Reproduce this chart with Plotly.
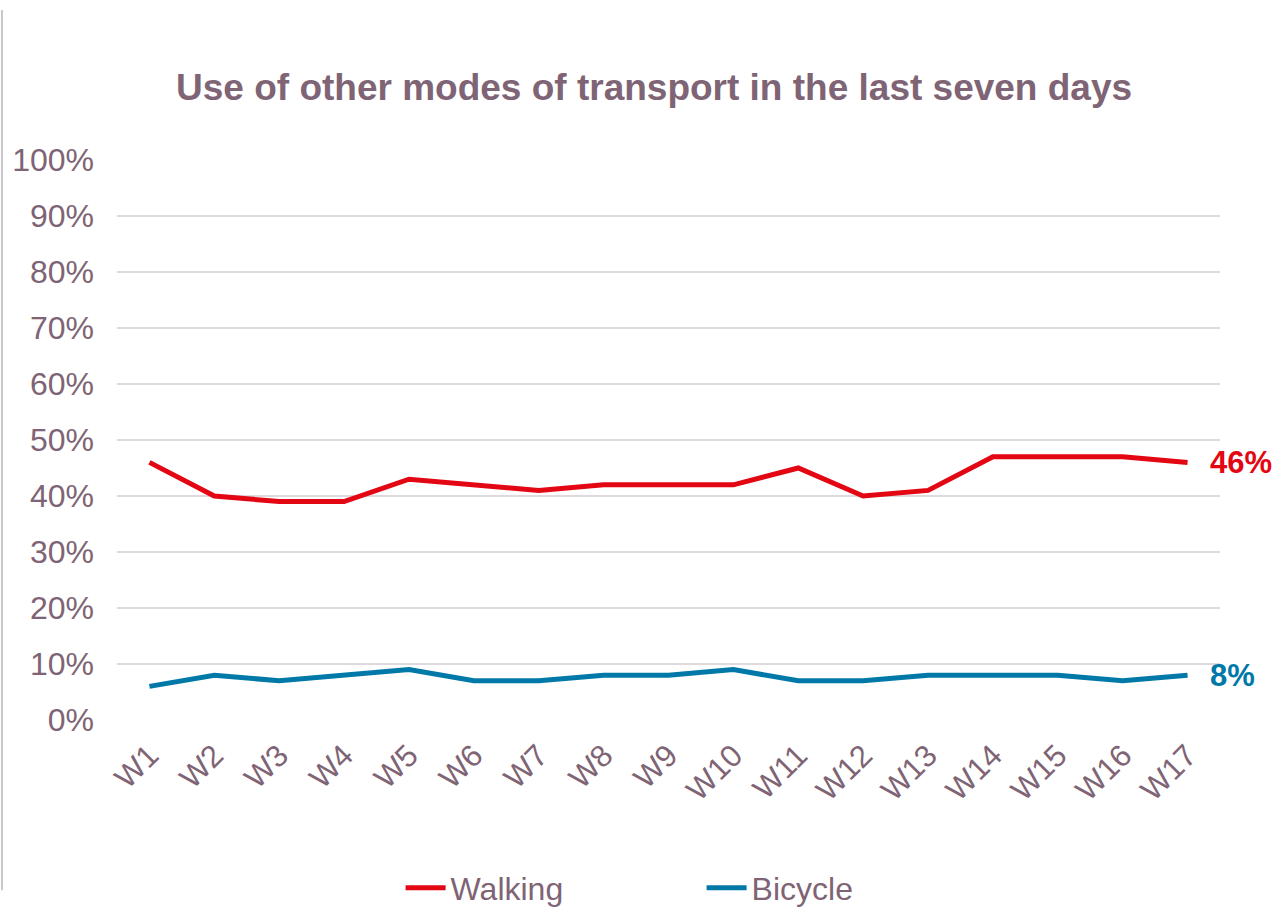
import plotly.graph_objects as go

# weekly share using each mode
weeks = ["W1", "W2", "W3", "W4", "W5", "W6", "W7", "W8", "W9", "W10",
         "W11", "W12", "W13", "W14", "W15", "W16", "W17"]
walking = [0.46, 0.40, 0.39, 0.39, 0.43, 0.42, 0.41, 0.42, 0.42, 0.42,
           0.45, 0.40, 0.41, 0.47, 0.47, 0.47, 0.46]
bicycle = [0.06, 0.08, 0.07, 0.08, 0.09, 0.07, 0.07, 0.08, 0.08, 0.09,
           0.07, 0.07, 0.08, 0.08, 0.08, 0.07, 0.08]
y_ticks = [0, 0.1, 0.2, 0.3, 0.4, 0.5, 0.6, 0.7, 0.8, 0.9, 1.0]

RED = "#E30613"
BLUE = "#0079A8"
TEXT = "#7E6474"
FONT = "Liberation Sans, Arial, sans-serif"

fig = go.Figure()
for name, vals, col in [("Walking", walking, RED), ("Bicycle", bicycle, BLUE)]:
    fig.add_trace(go.Scatter(
        x=weeks, y=vals, name=name, mode="lines",
        line=dict(color=col, width=5),
    ))
    # value label at the end of each line
    fig.add_annotation(
        x=weeks[-1], y=vals[-1], text=f"<b>{vals[-1]:.0%}</b>",
        showarrow=False, xanchor="left", xshift=20,
        font=dict(color=col, size=31, family=FONT),
    )

fig.update_layout(
    width=1275, height=911,
    paper_bgcolor="white", plot_bgcolor="white",
    font=dict(family=FONT, color=TEXT, size=32),
    title=dict(text="<b>Use of other modes of transport in the last seven days</b>",
               x=0.513, xanchor="center", y=0.904, yanchor="middle",
               font=dict(size=37, color=TEXT)),
    margin=dict(l=117, r=55, t=160, b=191, autoexpand=False),
    showlegend=True,
    legend=dict(orientation="h", x=0.53, xanchor="center", y=-0.3, yanchor="middle",
                font=dict(size=32, color=TEXT), entrywidth=246, itemwidth=40),
)
fig.update_xaxes(
    range=[-0.5, 16.5], tickangle=-45, showgrid=False, showline=False,
    ticks="", ticklabelstandoff=10, tickfont=dict(size=31, color=TEXT),
)
fig.update_yaxes(
    range=[0, 1], tickvals=y_ticks, tickformat=".0%",
    showgrid=True, gridcolor="#DFD8DC", gridwidth=2, zeroline=False,
    ticks="", ticklabelstandoff=22, tickfont=dict(size=32, color=TEXT),
)
# faint border on the left edge
fig.add_shape(type="line", xref="paper", yref="paper",
              x0=-0.1043, x1=-0.1043, y0=-0.304, y1=1.268,
              line=dict(color="#C8C8C8", width=2))

# drop the page's default body margin so the figure sits at the window corner
fig.write_html("out.html", config={"displayModeBar": False},
               post_script="document.body.style.margin='0';")
